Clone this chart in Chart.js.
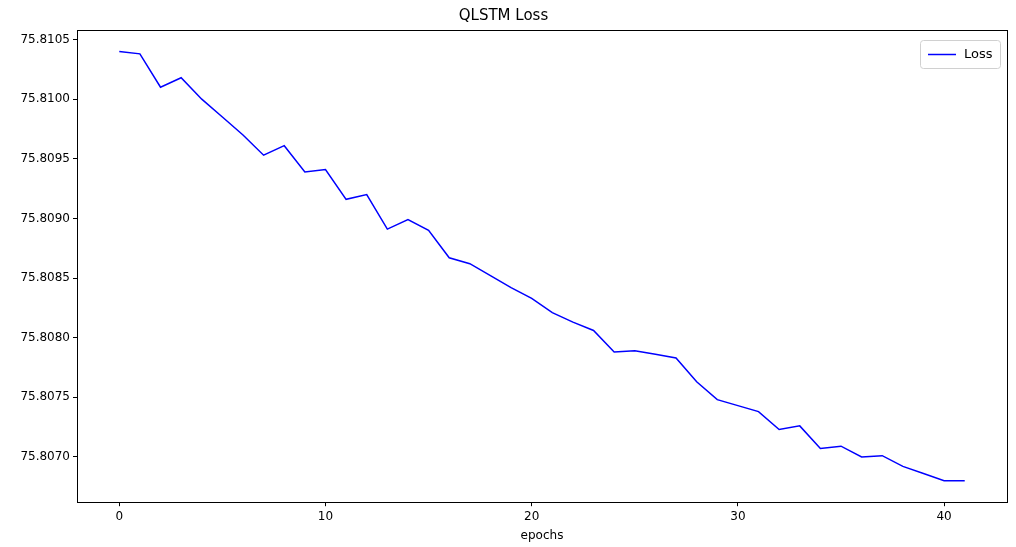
<!DOCTYPE html>
<html>
<head>
<meta charset="utf-8">
<script src="https://cdn.jsdelivr.net/npm/chart.js@4/dist/chart.umd.min.js"></script>
<style>
  body { margin: 0; background: #fff; }
  #wrap { width: 1016px; height: 547px; }
</style>
</head>
<body>
<div id="wrap"><canvas id="c"></canvas></div>
<script>
const epochs = [];
for (let i = 0; i <= 41; i++) epochs.push(i);
const loss = [
  75.81040, 75.81038, 75.81010, 75.81018, 75.81000, 75.80985, 75.80970, 75.80953,
  75.80961, 75.80939, 75.80941, 75.80916, 75.80920, 75.80891, 75.80899, 75.80890,
  75.80867, 75.80862, 75.80852, 75.80842, 75.80833, 75.80821, 75.80813, 75.80806,
  75.80788, 75.80789, 75.80786, 75.80783, 75.80763, 75.80748, 75.80743, 75.80738,
  75.80723, 75.80726, 75.80707, 75.80709, 75.80700, 75.80701, 75.80692, 75.80686,
  75.80680, 75.80680
];
const yTicks = [75.8070, 75.8075, 75.8080, 75.8085, 75.8090, 75.8095, 75.8100, 75.8105];

// full axes frame plus matplotlib-like legend box
const frameAndLegend = {
  id: 'frameAndLegend',
  afterDraw(chart) {
    const { ctx, chartArea } = chart;
    ctx.save();
    ctx.strokeStyle = '#000';
    ctx.lineWidth = 1;
    ctx.strokeRect(Math.round(chartArea.left) + 0.5, Math.round(chartArea.top) + 0.5,
      Math.round(chartArea.right - chartArea.left), Math.round(chartArea.bottom - chartArea.top));

    const w = 80, h = 28;
    const x = chartArea.right - w - 7, y = chartArea.top + 10;
    ctx.fillStyle = 'rgba(255,255,255,0.8)';
    ctx.strokeStyle = '#d0d0d0';
    ctx.beginPath();
    ctx.roundRect(x + 0.5, y + 0.5, w, h, 3);
    ctx.fill(); ctx.stroke();
    ctx.strokeStyle = 'blue';
    ctx.lineWidth = 1.5;
    ctx.beginPath();
    ctx.moveTo(x + 8, y + 14.5); ctx.lineTo(x + 36, y + 14.5);
    ctx.stroke();
    ctx.fillStyle = '#000';
    ctx.font = '13px "DejaVu Sans"';
    ctx.textBaseline = 'middle';
    ctx.fillText('Loss', x + 44, y + 15);
    ctx.restore();
  }
};

const tickGrid = { drawOnChartArea: false, drawTicks: true, tickLength: 4, color: '#000' };

new Chart(document.getElementById('c'), {
  type: 'line',
  data: {
    datasets: [{
      label: 'Loss',
      data: epochs.map((e, i) => ({ x: e, y: loss[i] })),
      borderColor: 'blue',
      borderWidth: 1.5,
      pointRadius: 0,
      tension: 0
    }]
  },
  options: {
    responsive: true,
    maintainAspectRatio: false,
    animation: false,
    layout: { padding: { top: 0, right: 9, bottom: 4, left: 0 } },
    plugins: {
      legend: { display: false },
      tooltip: { enabled: false },
      title: {
        display: true,
        text: 'QLSTM Loss',
        color: '#000',
        font: { family: 'DejaVu Sans', size: 15, weight: 'normal' },
        padding: { top: 7, bottom: 5 }
      }
    },
    scales: {
      x: {
        type: 'linear',
        min: -2.05,
        max: 43.05,
        afterBuildTicks: ax => { ax.ticks = [0, 10, 20, 30, 40].map(v => ({ value: v })); },
        grid: tickGrid,
        border: { color: '#000' },
        ticks: { color: '#000', font: { family: 'DejaVu Sans', size: 12 }, padding: 3 },
        title: {
          display: true, text: 'epochs', color: '#000',
          font: { family: 'DejaVu Sans', size: 12 }, padding: { top: 2, bottom: 0 }
        }
      },
      y: {
        min: 75.80662,
        max: 75.81058,
        afterBuildTicks: ax => { ax.ticks = yTicks.map(v => ({ value: v })); },
        afterFit: ax => { ax.width = 77; },
        grid: tickGrid,
        border: { color: '#000' },
        ticks: {
          color: '#000', font: { family: 'DejaVu Sans', size: 12 }, padding: 3,
          callback: v => v.toFixed(4)
        }
      }
    }
  },
  plugins: [frameAndLegend]
});
</script>
</body>
</html>
